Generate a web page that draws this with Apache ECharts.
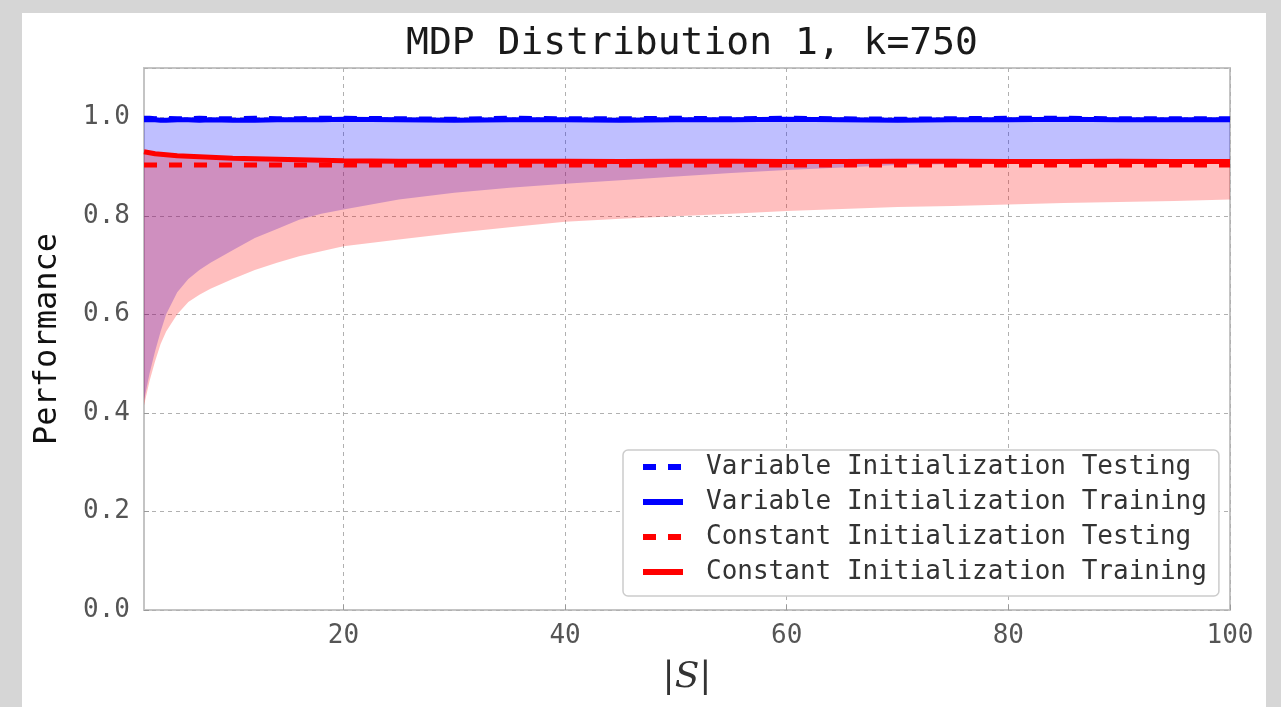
<!DOCTYPE html>
<html>
<head>
<meta charset="utf-8">
<script src="https://cdn.jsdelivr.net/npm/echarts@6/dist/echarts.min.js"></script>
<style>
html,body{margin:0;padding:0;background:#d6d6d6;}
#c{width:1281px;height:707px;}
</style>
</head>
<body>
<div id="c"></div>
<script>
// ---- data ----
const S = [2,2.5,3,3.5,4,5,6,7,8,10,12,14,16,18,20,25,30,35,40,45,50,55,60,65,70,75,80,85,90,95,100];

const blueTrain = [0.995,0.995,0.995,0.994,0.994,0.995,0.995,0.994,0.995,0.994,0.994,0.995,0.995,0.995,0.996,0.995,0.994,0.995,0.995,0.994,0.995,0.995,0.996,0.995,0.994,0.995,0.995,0.996,0.995,0.995,0.995];
const blueTest  = [0.998,0.998,0.997,0.998,0.998,0.997,0.997,0.998,0.997,0.997,0.998,0.997,0.997,0.998,0.998,0.997,0.996,0.998,0.997,0.997,0.998,0.997,0.998,0.997,0.996,0.997,0.998,0.998,0.997,0.997,0.997];
const blueLow   = [0.425,0.48,0.525,0.565,0.60,0.645,0.672,0.69,0.705,0.73,0.755,0.773,0.792,0.804,0.813,0.833,0.847,0.857,0.865,0.872,0.880,0.887,0.893,0.898,0.903,0.905,0.907,0.908,0.909,0.909,0.909];

const redTrain  = [0.930,0.928,0.926,0.925,0.924,0.922,0.921,0.920,0.919,0.917,0.916,0.915,0.914,0.913,0.912,0.911,0.911,0.911,0.911,0.910,0.911,0.911,0.910,0.910,0.911,0.911,0.910,0.910,0.911,0.910,0.910];
const redTest   = [0.903,0.903,0.903,0.903,0.903,0.903,0.903,0.903,0.903,0.903,0.903,0.903,0.903,0.903,0.903,0.903,0.903,0.903,0.903,0.903,0.903,0.903,0.903,0.903,0.903,0.903,0.903,0.903,0.903,0.903,0.903];
const redLow    = [0.415,0.465,0.505,0.54,0.565,0.60,0.625,0.64,0.652,0.672,0.69,0.705,0.718,0.728,0.738,0.752,0.765,0.777,0.788,0.794,0.799,0.804,0.810,0.814,0.818,0.820,0.823,0.826,0.828,0.830,0.833];

const xTicks = [20,40,60,80,100];
const names = ['Variable Initialization Testing','Variable Initialization Training','Constant Initialization Testing','Constant Initialization Training'];
const titleText = 'MDP Distribution 1, k=750';
const yName = 'Performance';

// ---- build ----
const pairs = (ys) => S.map((x,i)=>[x, ys[i]]);
const MONO = 'DejaVu Sans Mono';
const BLUE = '#0000ff', RED = '#ff0000';

function bandSeries(upper, lower, color, z){
  return {
    type:'custom', silent:true, z:z,
    data:[[S[0], lower[0]]],
    encode:{x:0, y:1},
    renderItem:function(params, api){
      const pts = [];
      for(let i=0;i<S.length;i++) pts.push(api.coord([S[i], upper[i]]));
      for(let i=S.length-1;i>=0;i--) pts.push(api.coord([S[i], lower[i]]));
      return {type:'polygon', shape:{points:pts}, style:{fill:color, opacity:0.25}};
    }
  };
}

const chart = echarts.init(document.getElementById('c'), null, {renderer:'canvas'});
chart.setOption({
  backgroundColor: '#d6d6d6',
  animation: false,
  graphic: [{type:'rect', z:-10, shape:{x:22,y:13,width:1244,height:700}, style:{fill:'#ffffff'}, silent:true}],
  title: {
    text: titleText, left: 687, top: 20, textAlign: 'center',
    textStyle: {fontFamily: MONO, fontSize: 38, fontWeight: 'normal', color: '#1a1a1a'}
  },
  grid: {left:144, right:51, top:68, bottom:97, show:true, borderColor:'#c4c4c4', borderWidth:2, backgroundColor:'transparent'},
  xAxis: {
    type:'value', min:2, max:100,
    name: '{a||}{b|S}{a||}', nameLocation:'middle', nameGap:50,
    nameTextStyle: {rich:{a:{fontFamily:'DejaVu Serif', fontSize:36, color:'#333'}, b:{fontFamily:'DejaVu Serif', fontStyle:'italic', fontSize:36, color:'#333'}}},
    axisLine:{show:false},
    axisTick:{show:true, inside:true, length:5, lineStyle:{color:'#999'}, customValues:xTicks},
    axisLabel:{fontFamily:MONO, fontSize:26, color:'#555', margin:13, customValues:xTicks},
    splitLine:{show:true, lineStyle:{color:'#b0b0b0', type:[4,4], width:1}}
  },
  yAxis: {
    type:'value', min:0, max:1.1, interval:0.2,
    name: yName, nameLocation:'middle', nameGap:80, nameRotate:90,
    nameTextStyle:{fontFamily:MONO, fontSize:32, color:'#111'},
    axisLine:{show:false}, axisTick:{show:true, inside:true, length:5, lineStyle:{color:'#999'}},
    axisLabel:{fontFamily:MONO, fontSize:26, color:'#555', margin:14, showMaxLabel:false, formatter:(v)=>v.toFixed(1)},
    splitLine:{show:true, lineStyle:{color:'#b0b0b0', type:[4,4], width:1}}
  },
  legend: {
    data: names, orient:'vertical', left:623, top:450,
    backgroundColor:'#ffffff', borderColor:'#cccccc', borderWidth:1.5, borderRadius:5,
    padding:[4,12,11,17], itemWidth:40, itemHeight:14, itemGap:9,
    itemStyle:{opacity:0},
    lineStyle:{width:6},
    textStyle:{fontFamily:MONO, fontSize:26, color:'#333', padding:[0,0,0,18]}
  },
  series: [
    bandSeries(blueTrain, blueLow, BLUE, 1),
    bandSeries(redTrain, redLow, RED, 2),
    {name:names[0], type:'line', data:pairs(blueTest), symbol:'none', lineStyle:{color:BLUE, width:5, type:[13,12]}, itemStyle:{color:BLUE}, z:5},
    {name:names[1], type:'line', data:pairs(blueTrain), symbol:'none', lineStyle:{color:BLUE, width:5}, itemStyle:{color:BLUE}, z:6},
    {name:names[2], type:'line', data:pairs(redTest), symbol:'none', lineStyle:{color:RED, width:5, type:[13,12]}, itemStyle:{color:RED}, z:5},
    {name:names[3], type:'line', data:pairs(redTrain), symbol:'none', lineStyle:{color:RED, width:5}, itemStyle:{color:RED}, z:6}
  ]
});
</script>
</body>
</html>
